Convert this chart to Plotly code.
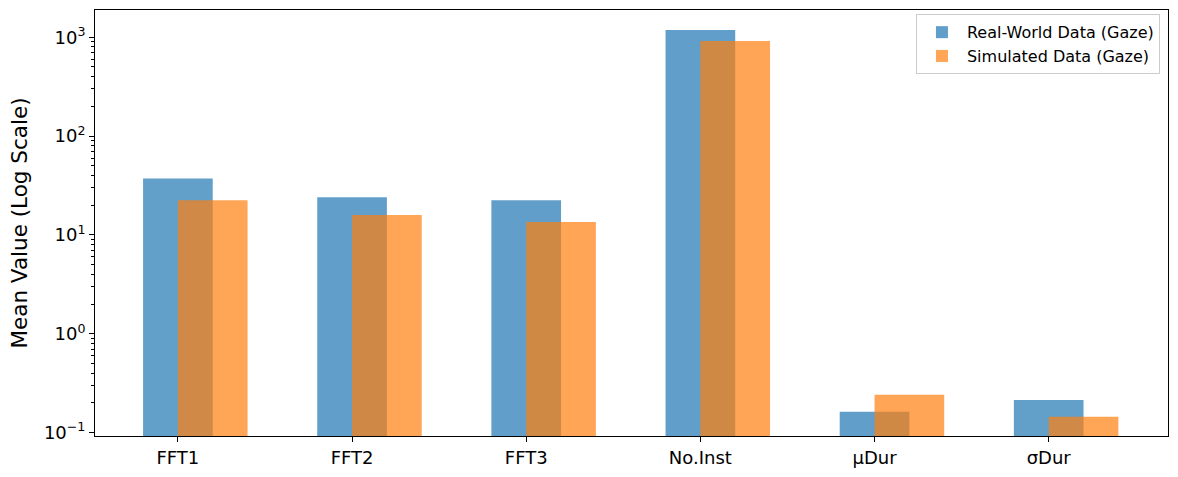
import plotly.graph_objects as go
import numpy as np

categories = ["FFT1", "FFT2", "FFT3", "No.Inst", "μDur", "σDur"]
real_world = [37.3, 24.1, 22.4, 1180, 0.163, 0.214]
simulated = [22.4, 15.9, 13.5, 915, 0.242, 0.145]

x = np.arange(len(categories))
bar_w = 0.4
font = "DejaVu Sans"

fig = go.Figure()
fig.add_trace(go.Bar(
    x=x, y=real_world, width=bar_w, name="Real-World Data (Gaze)",
    marker=dict(color="#1f77b4", line=dict(width=0)), opacity=0.7,
))
fig.add_trace(go.Bar(
    x=x + 0.2, y=simulated, width=bar_w, name="Simulated Data (Gaze)",
    marker=dict(color="#ff7f0e", line=dict(width=0)), opacity=0.7,
))

major = [0.1, 1, 10, 100, 1000]
major_text = ["10<sup>−1</sup>", "10<sup>0</sup>", "10<sup>1</sup>", "10<sup>2</sup>", "10<sup>3</sup>"]
minor = [m * 10.0 ** e for e in range(-2, 4) for m in range(2, 10)]

fig.update_layout(
    width=1178, height=477,
    margin=dict(l=95, r=10, t=9, b=39),
    paper_bgcolor="white", plot_bgcolor="white",
    barmode="overlay",
    font=dict(family=font, color="black", size=18),
    showlegend=True,
    legend=dict(
        x=0.9925, xanchor="right", y=0.99, yanchor="top",
        bgcolor="rgba(255,255,255,0.8)", bordercolor="#cccccc", borderwidth=1,
        font=dict(family=font, size=16, color="black"),
        tracegroupgap=0, itemwidth=40,
    ),
    xaxis=dict(
        range=[-0.476, 5.685],
        tickmode="array", tickvals=x, ticktext=categories,
        showgrid=False, zeroline=False,
        showline=True, linecolor="black", linewidth=1, mirror=True,
        ticks="outside", ticklen=5, tickwidth=1, tickcolor="black",
        tickfont=dict(family=font, size=18, color="black"),
    ),
    yaxis=dict(
        type="log", range=[-1.033, 3.275],
        tickmode="array", tickvals=major, ticktext=major_text,
        showgrid=False, zeroline=False,
        showline=True, linecolor="black", linewidth=1, mirror=True,
        ticks="outside", ticklen=5, tickwidth=1, tickcolor="black",
        tickfont=dict(family=font, size=18, color="black"),
        minor=dict(tickvals=minor, ticks="outside", ticklen=3, tickwidth=1, tickcolor="black", showgrid=False),
        title=dict(text="Mean Value (Log Scale)", font=dict(family=font, size=21.5, color="black"), standoff=10),
    ),
)

fig.write_html("out.html", config={"displayModeBar": False},
               post_script="document.body.style.margin='0';")
